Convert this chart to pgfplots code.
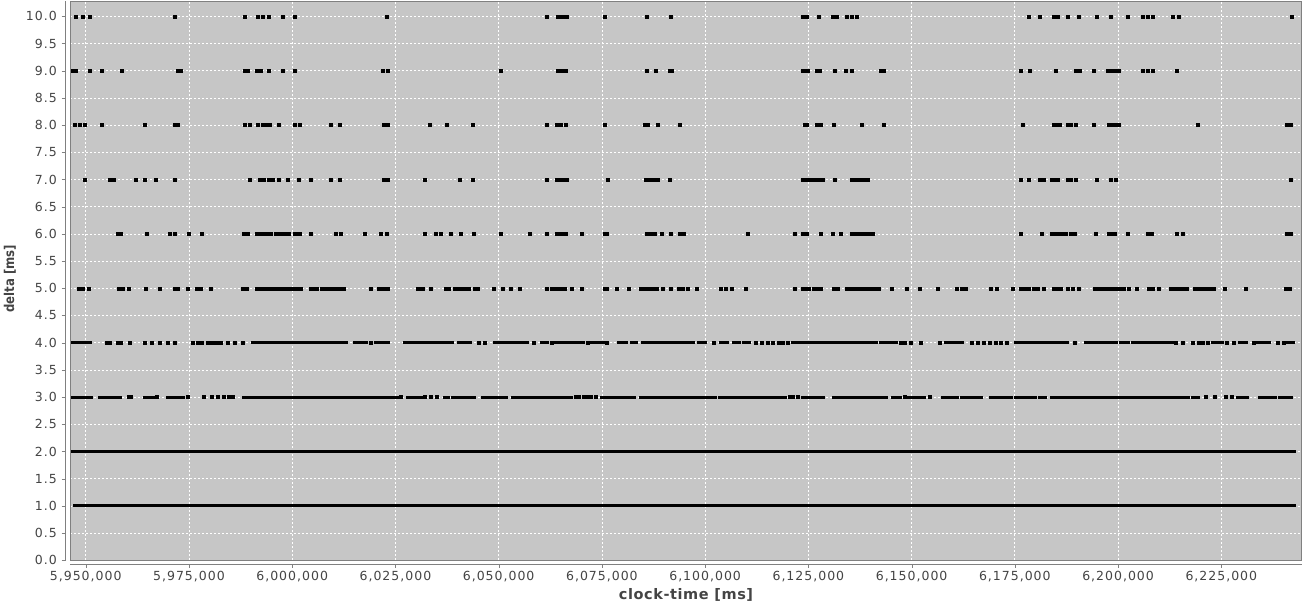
\documentclass[border=0pt]{standalone}
\usepackage{fontspec}
\setmainfont{DejaVu Sans}
\newfontfamily\tickfont[LetterSpace=8]{DejaVu Sans}
\newfontfamily\labfont[LetterSpace=4]{DejaVu Sans}
\newfontfamily\ylabfont[FakeStretch=0.87]{DejaVu Sans}
\usepackage{pgfplots}
\pgfplotsset{compat=1.18}
\definecolor{plotbg}{RGB}{198,198,198}
\definecolor{axgray}{RGB}{128,128,128}
\definecolor{ticktext}{RGB}{68,68,68}
\begin{document}
\begin{tikzpicture}
\path[use as bounding box] (-70.3pt,-43.7pt) rectangle (1232.7pt,560.3pt);
\begin{axis}[
  scale only axis, width=1231.4pt, height=559.3pt,
  at={(0pt,0pt)}, anchor=south west,
  xmin=5946271, xmax=6244469, ymin=0, ymax=10.281,
  axis background/.style={fill=plotbg},
  axis line style={draw=axgray, line width=0.6pt},
  grid=major,
  major grid style={white, dash pattern=on 2pt off 2pt, line width=0.7pt},
  xtick={5950000,5975000,6000000,6025000,6050000,6075000,6100000,6125000,6150000,6175000,6200000,6225000},
  ytick={0,0.5,1,1.5,2,2.5,3,3.5,4,4.5,5,5.5,6,6.5,7,7.5,8,8.5,9,9.5,10},
  scaled x ticks=false,
  xticklabel style={yshift=-3pt, /pgf/number format/fixed, /pgf/number format/precision=0, /pgf/number format/1000 sep={,}},
  yticklabel style={xshift=-6pt, /pgf/number format/fixed, /pgf/number format/fixed zerofill, /pgf/number format/precision=1},
  /pgf/number format/assume math mode=true,
  ticklabel style={font=\tickfont\fontsize{12.5}{14}\selectfont, text=ticktext},
  tick align=outside, tick pos=left, major tick length=4pt,
  xtick style={draw=axgray, yshift=-3.7pt},
  ytick style={draw=axgray, xshift=-4.6pt},
  xlabel={clock-time [ms]},
  ylabel={delta [ms]},
  xlabel style={at={(axis description cs:0.5,0)}, anchor=center, yshift=-34.7pt,
    font=\labfont\bfseries\fontsize{14.5}{16}\selectfont, text=ticktext},
  ylabel style={at={(axis description cs:-0.049,0.503)}, anchor=center,
    font=\ylabfont\bfseries\fontsize{13.5}{15}\selectfont, text=ticktext},
  unbounded coords=jump,
  pts/.style={only marks, mark=square*, mark size=1.5pt, mark options={draw=none, fill=black}},
  segs/.style={no marks, draw=black, line width=3pt, line cap=rect},
]
% dense rows drawn as runs
\addplot[segs, line width=3.2pt] coordinates {(5946800,2) (6242800,2) (nan,nan) (5947200,1) (6242800,1)};
\addplot[segs] coordinates {
(5946700,4) (5951200,4) (nan,nan) (5990500,4) (6013200,4) (nan,nan) (6015200,4) (6018000,4) (nan,nan)
(6020200,4) (6023300,4) (nan,nan) (6027200,4) (6032900,4) (nan,nan) (6033600,4) (6038900,4) (nan,nan)
(6040300,4) (6043200,4) (nan,nan) (6048900,4) (6054200,4) (nan,nan) (6054700,4) (6056900,4) (nan,nan)
(6060400,4) (6061900,4) (nan,nan) (6063800,4) (6067600,4) (nan,nan) (6068300,4) (6070500,4) (nan,nan)
(6072400,4) (6075300,4) (nan,nan) (6079100,4) (6081000,4) (nan,nan) (6082200,4) (6083400,4) (nan,nan)
(6084900,4) (6088700,4) (nan,nan) (6089200,4) (6097300,4) (nan,nan) (6098300,4) (6100200,4) (nan,nan)
(6103800,4) (6105300,4) (nan,nan) (6106900,4) (6108400,4) (nan,nan) (6109300,4) (6110800,4) (nan,nan)
(6121200,4) (6130500,4) (nan,nan) (6131400,4) (6133400,4) (nan,nan) (6134300,4) (6141500,4) (nan,nan)
(6142500,4) (6146300,4) (nan,nan) (6158200,4) (6160300,4) (nan,nan) (6161200,4) (6162400,4) (nan,nan)
(6175200,4) (6187700,4) (nan,nan) (6192200,4) (6199700,4) (nan,nan) (6200700,4) (6202600,4) (nan,nan)
(6203600,4) (6205500,4) (nan,nan) (6206000,4) (6213200,4) (nan,nan) (6222800,4) (6225200,4) (nan,nan)
(6229500,4) (6231000,4) (nan,nan) (6233800,4) (6236700,4) (nan,nan) (6240600,4) (6242500,4) (nan,nan)
(5946700,3) (5951500,3) (nan,nan) (5953400,3) (5958400,3) (nan,nan) (5964200,3) (5966600,3) (nan,nan)
(5969700,3) (5973700,3) (nan,nan) (5988100,3) (6025500,3) (nan,nan) (6027900,3) (6031200,3) (nan,nan)
(6036800,3) (6037900,3) (nan,nan) (6038900,3) (6044200,3) (nan,nan) (6046100,3) (6051800,3) (nan,nan)
(6053300,3) (6067600,3) (nan,nan) (6074800,3) (6083000,3) (nan,nan) (6084400,3) (6099700,3) (nan,nan)
(6100200,3) (6102600,3) (nan,nan) (6103600,3) (6119400,3) (nan,nan) (6123600,3) (6128600,3) (nan,nan)
(6131000,3) (6143900,3) (nan,nan) (6145400,3) (6147300,3) (nan,nan) (6149200,3) (6153100,3) (nan,nan)
(6157400,3) (6161200,3) (nan,nan) (6162200,3) (6167000,3) (nan,nan) (6169000,3) (6174200,3) (nan,nan)
(6175200,3) (6180000,3) (nan,nan) (6181000,3) (6182400,3) (nan,nan) (6183800,3) (6217000,3) (nan,nan)
(6218000,3) (6219400,3) (nan,nan) (6229000,3) (6231400,3) (nan,nan) (6234300,3) (6238200,3) (nan,nan)
(6239100,3) (6242000,3)
};
% row 4 isolated points
\addplot[pts] coordinates {
(5955100,4) (5955800,4) (5957700,4) (5958400,4) (5960600,4) (5964400,4) (5965900,4) (5967800,4) (5969900,4)
(5971600,4) (5975800,4) (5977100,4) (5978100,4) (5979500,4) (5980300,4) (5981000,4) (5981900,4) (5982600,4)
(5984300,4) (5986000,4) (5988100,4) (6019100,4) (6045100,4) (6046500,4) (6058500,4) (6062800,4) (6071500,4)
(6076200,4) (6102100,4) (6112200,4) (6113700,4) (6115100,4) (6116300,4) (6117800,4) (6118700,4) (6119900,4)
(6147300,4) (6148300,4) (6149700,4) (6152100,4) (6156900,4) (6164600,4) (6166000,4) (6167500,4) (6168900,4)
(6170400,4) (6171600,4) (6173000,4) (6189600,4) (6213900,4) (6215600,4) (6218000,4) (6219400,4) (6220400,4)
(6221800,4) (6226400,4) (6228100,4) (6232900,4) (6238600,4) (6240100,4)
};
% row 3 isolated points
\addplot[pts] coordinates {
(5960300,3) (5961000,3) (5967300,3) (5974700,3) (5978500,3) (5980400,3) (5981900,3) (5983300,3) (5984600,3)
(5985700,3) (6026400,3) (6032200,3) (6033600,3) (6035100,3) (6068600,3) (6069500,3) (6070500,3) (6071500,3)
(6072400,3) (6073400,3) (6120400,3) (6121300,3) (6122300,3) (6148300,3) (6154500,3) (6221300,3) (6223300,3)
(6226100,3) (6227600,3)
};
% row 5
\addplot[pts] coordinates {
(5948400,5) (5949300,5) (5950700,5) (5958100,5) (5958900,5) (5960300,5) (5964600,5) (5968000,5) (5971500,5)
(5972300,5) (5974700,5) (5976900,5) (5977900,5) (5980300,5) (5988100,5) (5989100,5) (5991300,5) (5991900,5)
(5992600,5) (5993300,5) (5994000,5) (5994600,5) (5995300,5) (5996000,5) (5996600,5) (5997300,5) (5998000,5)
(5998600,5) (5999300,5) (6000000,5) (6000700,5) (6001300,5) (6002000,5) (6004400,5) (6005200,5) (6005900,5)
(6007100,5) (6007700,5) (6008500,5) (6009400,5) (6010100,5) (6010900,5) (6011800,5) (6012500,5) (6019000,5)
(6021000,5) (6021600,5) (6022400,5) (6023100,5) (6030300,5) (6030900,5) (6031700,5) (6033600,5) (6037200,5)
(6037900,5) (6039400,5) (6040100,5) (6040800,5) (6041800,5) (6042700,5) (6044200,5) (6044900,5) (6048900,5)
(6050900,5) (6052800,5) (6055200,5) (6061600,5) (6062800,5) (6063800,5) (6064500,5) (6065200,5) (6065900,5)
(6067800,5) (6070000,5) (6075600,5) (6076200,5) (6078600,5) (6081500,5) (6084400,5) (6085200,5) (6085900,5)
(6086700,5) (6087500,5) (6088200,5) (6089800,5) (6091600,5) (6093500,5) (6094600,5) (6095700,5) (6098000,5)
(6103700,5) (6105000,5) (6106400,5) (6109800,5) (6121600,5) (6123700,5) (6124400,5) (6125200,5) (6126200,5)
(6127100,5) (6128100,5) (6131200,5) (6132200,5) (6134300,5) (6135100,5) (6135900,5) (6136600,5) (6137400,5)
(6138200,5) (6138900,5) (6139700,5) (6140500,5) (6141300,5) (6142000,5) (6145100,5) (6148700,5) (6151900,5)
(6156400,5) (6160800,5) (6162200,5) (6163200,5) (6169200,5) (6170600,5) (6174400,5) (6176400,5) (6177400,5)
(6178400,5) (6179500,5) (6180500,5) (6181900,5) (6184300,5) (6185300,5) (6186200,5) (6187700,5) (6189100,5)
(6190400,5) (6194400,5) (6195200,5) (6196000,5) (6196700,5) (6197500,5) (6198300,5) (6199000,5) (6199800,5)
(6200600,5) (6201300,5) (6202600,5) (6204500,5) (6207400,5) (6208400,5) (6209800,5) (6212700,5) (6213600,5)
(6214600,5) (6215600,5) (6216500,5) (6218500,5) (6219400,5) (6220400,5) (6221300,5) (6222300,5) (6223100,5)
(6225900,5) (6231000,5) (6240600,5) (6241500,5)
};
% row 6
\addplot[pts] coordinates {
(5957700,6) (5958400,6) (5964800,6) (5970400,6) (5971600,6) (5975000,6) (5978200,6) (5988300,6) (5989300,6)
(5991500,6) (5992100,6) (5992800,6) (5993500,6) (5994100,6) (5994800,6) (5996100,6) (5996800,6) (5997600,6)
(5998400,6) (5999200,6) (6000600,6) (6001200,6) (6001900,6) (6004600,6) (6010600,6) (6011800,6) (6017500,6)
(6021400,6) (6022900,6) (6032200,6) (6034800,6) (6036000,6) (6038400,6) (6040800,6) (6043900,6) (6050400,6)
(6057600,6) (6061700,6) (6064100,6) (6064800,6) (6065400,6) (6066200,6) (6070200,6) (6075600,6) (6076200,6)
(6085800,6) (6086800,6) (6087700,6) (6089500,6) (6091600,6) (6093900,6) (6094900,6) (6110300,6) (6121800,6)
(6123600,6) (6124500,6) (6128100,6) (6131000,6) (6132900,6) (6135600,6) (6136200,6) (6136900,6) (6137600,6)
(6138300,6) (6138900,6) (6139600,6) (6140600,6) (6176400,6) (6181600,6) (6184000,6) (6184800,6) (6185600,6)
(6186300,6) (6187200,6) (6188600,6) (6189600,6) (6194600,6) (6197800,6) (6198500,6) (6199100,6) (6202300,6)
(6207200,6) (6208200,6) (6214100,6) (6215600,6) (6240800,6) (6241700,6)
};
% row 7
\addplot[pts] coordinates {
(5949800,7) (5955700,7) (5956700,7) (5962000,7) (5964400,7) (5966900,7) (5971600,7) (5989700,7) (5992200,7)
(5993200,7) (5994300,7) (5995300,7) (5996700,7) (5998900,7) (6001500,7) (6004400,7) (6009400,7) (6011600,7)
(6022100,7) (6023100,7) (6032200,7) (6040600,7) (6043700,7) (6061600,7) (6064100,7) (6064900,7) (6065600,7)
(6066500,7) (6076500,7) (6085500,7) (6086500,7) (6087500,7) (6088400,7) (6091400,7) (6123600,7) (6124200,7)
(6124900,7) (6125700,7) (6126600,7) (6127600,7) (6128400,7) (6131400,7) (6135500,7) (6136400,7) (6137400,7)
(6138400,7) (6139300,7) (6176400,7) (6178400,7) (6181000,7) (6181900,7) (6184000,7) (6184700,7) (6185300,7)
(6187700,7) (6188600,7) (6189800,7) (6194900,7) (6198100,7) (6199500,7) (6241700,7)
};
% row 8
\addplot[pts] coordinates {
(5947400,8) (5948500,8) (5949800,8) (5953900,8) (5964400,8) (5971600,8) (5972300,8) (5988400,8) (5989600,8)
(5991600,8) (5992900,8) (5993800,8) (5994600,8) (5996700,8) (6000600,8) (6001800,8) (6009400,8) (6011600,8)
(6022100,8) (6023100,8) (6033300,8) (6037300,8) (6043700,8) (6061600,8) (6064100,8) (6065100,8) (6066200,8)
(6075600,8) (6085300,8) (6086000,8) (6088400,8) (6093800,8) (6124000,8) (6124700,8) (6126900,8) (6128100,8)
(6131200,8) (6138000,8) (6143200,8) (6176800,8) (6184300,8) (6185000,8) (6185800,8) (6187700,8) (6188600,8)
(6189800,8) (6194200,8) (6197800,8) (6198600,8) (6199300,8) (6200200,8) (6219200,8) (6240800,8) (6241700,8)
};
% row 9
\addplot[pts] coordinates {
(5946900,9) (5947700,9) (5950900,9) (5953900,9) (5958700,9) (5972300,9) (5973000,9) (5988400,9) (5989300,9)
(5991500,9) (5992400,9) (5994400,9) (5997800,9) (6000600,9) (6021900,9) (6023100,9) (6050400,9) (6064300,9)
(6065200,9) (6066300,9) (6085900,9) (6088000,9) (6091300,9) (6091800,9) (6123600,9) (6124200,9) (6124900,9)
(6126900,9) (6127800,9) (6131400,9) (6134100,9) (6135600,9) (6142500,9) (6143300,9) (6176400,9) (6178600,9)
(6184800,9) (6189800,9) (6190600,9) (6194200,9) (6197600,9) (6198500,9) (6199300,9) (6200200,9) (6206000,9)
(6207100,9) (6208400,9) (6214100,9)
};
% row 10
\addplot[pts] coordinates {
(5947600,10) (5949300,10) (5951000,10) (5971600,10) (5988400,10) (5991600,10) (5992900,10) (5994300,10)
(5997800,10) (6000600,10) (6022800,10) (6061600,10) (6064300,10) (6064900,10) (6065700,10) (6066500,10)
(6075600,10) (6085900,10) (6091600,10) (6123600,10) (6124700,10) (6127600,10) (6131000,10) (6131900,10)
(6134300,10) (6135500,10) (6136700,10) (6178400,10) (6181000,10) (6184300,10) (6185300,10) (6187900,10)
(6190400,10) (6194900,10) (6198300,10) (6202300,10) (6206000,10) (6207100,10) (6208400,10) (6213200,10)
(6214600,10) (6242000,10)
};
\end{axis}
\draw[axgray, line width=0.8pt] (-4.6pt,0pt) -- (-4.6pt,559.3pt);
\draw[axgray, line width=0.8pt] (0pt,-3.7pt) -- (1231.4pt,-3.7pt);
\end{tikzpicture}
\end{document}
